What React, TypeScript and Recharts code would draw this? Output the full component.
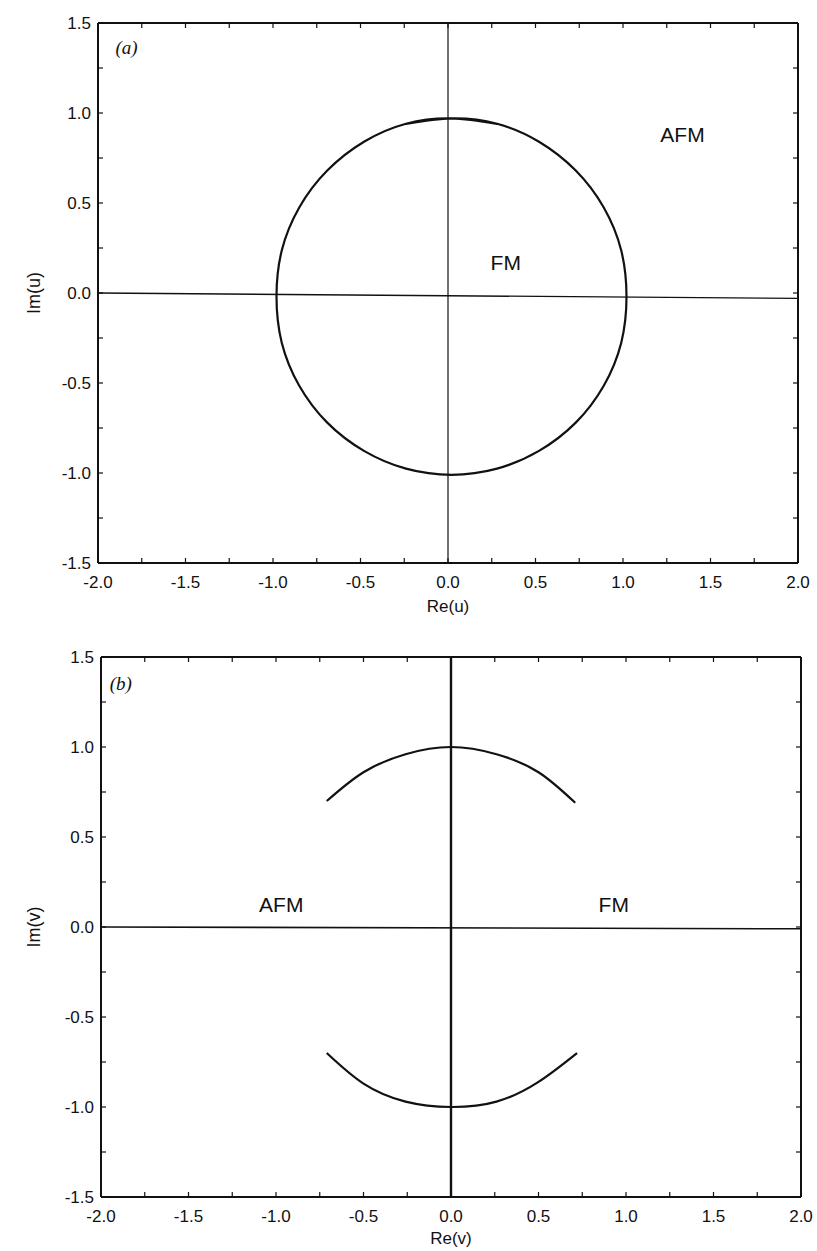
import React from "react";
import { ScatterChart, Scatter, XAxis, YAxis } from "recharts";

// tick values (all ticks are drawn inward; only the majors get a label)
const xTicks = [-2, -1.75, -1.5, -1.25, -1, -0.75, -0.5, -0.25, 0, 0.25, 0.5, 0.75, 1, 1.25, 1.5, 1.75, 2];
const yTicks = [-1.5, -1.25, -1, -0.75, -0.5, -0.25, 0, 0.25, 0.5, 0.75, 1, 1.25, 1.5];
const xMajor = [-2, -1.5, -1, -0.5, 0, 0.5, 1, 1.5, 2];
const yMajor = [-1.5, -1, -0.5, 0, 0.5, 1, 1.5];

// panel (a): boundary in the u plane
// (first and last points overlap the loop so the spline closes smoothly)
const uCircle = [
  { x: -0.24, y: 0.94 }, { x: 0.02, y: 0.97 }, { x: 0.28, y: 0.94 }, { x: 0.52, y: 0.84 },
  { x: 0.73, y: 0.68 }, { x: 0.89, y: 0.475 }, { x: 0.99, y: 0.236 }, { x: 1.02, y: -0.02 },
  { x: 0.99, y: -0.276 }, { x: 0.89, y: -0.515 }, { x: 0.73, y: -0.72 }, { x: 0.52, y: -0.877 },
  { x: 0.28, y: -0.976 }, { x: 0.02, y: -1.01 }, { x: -0.24, y: -0.976 }, { x: -0.48, y: -0.877 },
  { x: -0.69, y: -0.72 }, { x: -0.85, y: -0.515 }, { x: -0.95, y: -0.276 }, { x: -0.98, y: -0.02 },
  { x: -0.95, y: 0.236 }, { x: -0.85, y: 0.475 }, { x: -0.69, y: 0.68 }, { x: -0.48, y: 0.84 },
  { x: -0.24, y: 0.94 }, { x: 0.02, y: 0.97 }, { x: 0.28, y: 0.94 },
];
const uHorizontal = [{ x: -2, y: 0.0 }, { x: 2, y: -0.03 }];
const uVertical = [{ x: 0.0, y: 1.5 }, { x: 0.0, y: -1.5 }];
const uNotes = [
  { x: -1.9, y: 1.367, text: "(a)", italic: true },
  { x: 1.34, y: 0.88, text: "AFM" },
  { x: 0.33, y: 0.17, text: "FM" },
];

// panel (b): v plane
const vUpperArc = [
  { x: -0.71, y: 0.7 }, { x: -0.5, y: 0.86 }, { x: -0.26, y: 0.96 }, { x: 0.0, y: 1.0 },
  { x: 0.26, y: 0.96 }, { x: 0.5, y: 0.86 }, { x: 0.71, y: 0.69 },
];
const vLowerArc = [
  { x: -0.71, y: -0.7 }, { x: -0.5, y: -0.87 }, { x: -0.26, y: -0.97 }, { x: 0.0, y: -1.0 },
  { x: 0.26, y: -0.97 }, { x: 0.5, y: -0.86 }, { x: 0.72, y: -0.7 },
];
const vHorizontal = [{ x: -2, y: 0.0 }, { x: 2, y: -0.01 }];
const vVertical = [{ x: 0.0, y: 1.5 }, { x: 0.0, y: -1.5 }];
const vNotes = [
  { x: -1.95, y: 1.356, text: "(b)", italic: true },
  { x: -0.97, y: 0.125, text: "AFM" },
  { x: 0.93, y: 0.125, text: "FM" },
];

const INK = "#111";
const SANS = "'Liberation Sans', Arial, Helvetica, sans-serif";
const SERIF = "'Liberation Serif', 'Times New Roman', serif";
const TICK = 5;

const fmt = (v: number) => v.toFixed(1);
const isMajor = (list: number[], v: number) => list.some((m) => Math.abs(m - v) < 1e-6);

function BottomTick({ x, y, payload }: any) {
  const v = payload.value;
  return (
    <g>
      <line x1={x} x2={x} y1={y} y2={y - TICK} stroke={INK} strokeWidth={1.2} />
      {isMajor(xMajor, v) && (
        <text x={x} y={y + 25} textAnchor="middle" fontFamily={SANS} fontSize={17} fill={INK}>
          {fmt(v)}
        </text>
      )}
    </g>
  );
}

function TopTick({ x, y }: any) {
  return <line x1={x} x2={x} y1={y} y2={y + TICK} stroke={INK} strokeWidth={1.2} />;
}

function LeftTick({ x, y, payload }: any) {
  const v = payload.value;
  return (
    <g>
      <line x1={x} x2={x + TICK} y1={y} y2={y} stroke={INK} strokeWidth={1.2} />
      {isMajor(yMajor, v) && (
        <text x={x - 7} y={y + 6} textAnchor="end" fontFamily={SANS} fontSize={17} fill={INK}>
          {fmt(v)}
        </text>
      )}
    </g>
  );
}

function RightTick({ x, y }: any) {
  return <line x1={x} x2={x - TICK} y1={y} y2={y} stroke={INK} strokeWidth={1.2} />;
}

const NoDot = () => <g />;

function Note(props: any) {
  const { cx, cy, payload } = props;
  return (
    <text
      x={cx}
      y={cy}
      dy="0.36em"
      textAnchor={payload.italic ? "start" : "middle"}
      fontFamily={payload.italic ? SERIF : SANS}
      fontStyle={payload.italic ? "italic" : "normal"}
      fontSize={payload.italic ? 19 : 21}
      fill={INK}
    >
      {payload.text}
    </text>
  );
}

function XTitle({ text, dy }: { text: string; dy: number }) {
  return (props: any) => {
    const vb = props.viewBox;
    return (
      <text x={vb.x + vb.width / 2} y={vb.y + dy} textAnchor="middle" fontFamily={SANS} fontSize={17} fill={INK}>
        {text}
      </text>
    );
  };
}

function YTitle({ text, cy }: { text: string; cy: number }) {
  return () => (
    <text
      x={34}
      y={cy}
      transform={`rotate(-90 34 ${cy})`}
      textAnchor="middle"
      dy="0.35em"
      fontFamily={SANS}
      fontSize={18}
      fill={INK}
    >
      {text}
    </text>
  );
}

type Series = { x: number; y: number }[];

function Panel({
  width,
  height,
  margin,
  curves,
  axisLines,
  notes,
  xLabel,
  xLabelDy,
  yLabel,
  yTitleCenter,
}: {
  width: number;
  height: number;
  margin: { top: number; right: number; bottom: number; left: number };
  curves: Series[];
  axisLines: { data: Series; w: number }[];
  notes: any[];
  xLabel: string;
  xLabelDy: number;
  yLabel: string;
  yTitleCenter: number;
}) {
  return (
    <ScatterChart width={width} height={height} margin={margin}>
      <XAxis
        dataKey="x"
        type="number"
        domain={[-2, 2]}
        ticks={xTicks}
        interval={0}
        tickSize={0}
        tickMargin={0}
        tickLine={false}
        tick={<BottomTick />}
        axisLine={{ stroke: INK, strokeWidth: 2 }}
        height={45}
        allowDataOverflow
        label={{ content: XTitle({ text: xLabel, dy: xLabelDy }) }}
      />
      <XAxis
        xAxisId="top"
        orientation="top"
        dataKey="x"
        type="number"
        domain={[-2, 2]}
        ticks={xTicks}
        interval={0}
        tickSize={0}
        tickMargin={0}
        tickLine={false}
        tick={<TopTick />}
        axisLine={{ stroke: INK, strokeWidth: 2 }}
        height={1}
        allowDataOverflow
      />
      <YAxis
        dataKey="y"
        type="number"
        domain={[-1.5, 1.5]}
        ticks={yTicks}
        interval={0}
        tickSize={0}
        tickMargin={0}
        tickLine={false}
        tick={<LeftTick />}
        axisLine={{ stroke: INK, strokeWidth: 2 }}
        width={60}
        allowDataOverflow
        label={{ content: YTitle({ text: yLabel, cy: yTitleCenter }) }}
      />
      <YAxis
        yAxisId="right"
        orientation="right"
        dataKey="y"
        type="number"
        domain={[-1.5, 1.5]}
        ticks={yTicks}
        interval={0}
        tickSize={0}
        tickMargin={0}
        tickLine={false}
        tick={<RightTick />}
        axisLine={{ stroke: INK, strokeWidth: 2 }}
        width={1}
        allowDataOverflow
      />
      {axisLines.map((s, i) => (
        <Scatter
          key={`ax${i}`}
          data={s.data}
          fill={INK}
          line={{ stroke: INK, strokeWidth: s.w }}
          shape={NoDot}
          isAnimationActive={false}
        />
      ))}
      {curves.map((c, i) => (
        <Scatter
          key={`c${i}`}
          data={c}
          fill={INK}
          line={{ stroke: INK, strokeWidth: 2.2 }}
          lineJointType="natural"
          shape={NoDot}
          isAnimationActive={false}
        />
      ))}
      <Scatter data={notes} fill={INK} shape={<Note />} isAnimationActive={false} />
    </ScatterChart>
  );
}

export default function App() {
  return (
    <div style={{ position: "absolute", left: 0, top: 0, width: 817, height: 1251, background: "#fff" }}>
      <Panel
        width={817}
        height={625}
        margin={{ top: 22, right: 18, bottom: 17, left: 38 }}
        curves={[uCircle]}
        axisLines={[
          { data: uHorizontal, w: 1.4 },
          { data: uVertical, w: 1.2 },
        ]}
        notes={uNotes}
        xLabel="Re(u)"
        xLabelDy={49}
        yLabel="Im(u)"
        yTitleCenter={293}
      />
      <Panel
        width={817}
        height={626}
        margin={{ top: 31, right: 15, bottom: 9, left: 41 }}
        curves={[vUpperArc, vLowerArc]}
        axisLines={[
          { data: vHorizontal, w: 1.6 },
          { data: vVertical, w: 2.4 },
        ]}
        notes={vNotes}
        xLabel="Re(v)"
        xLabelDy={47}
        yLabel="Im(v)"
        yTitleCenter={302}
      />
    </div>
  );
}
